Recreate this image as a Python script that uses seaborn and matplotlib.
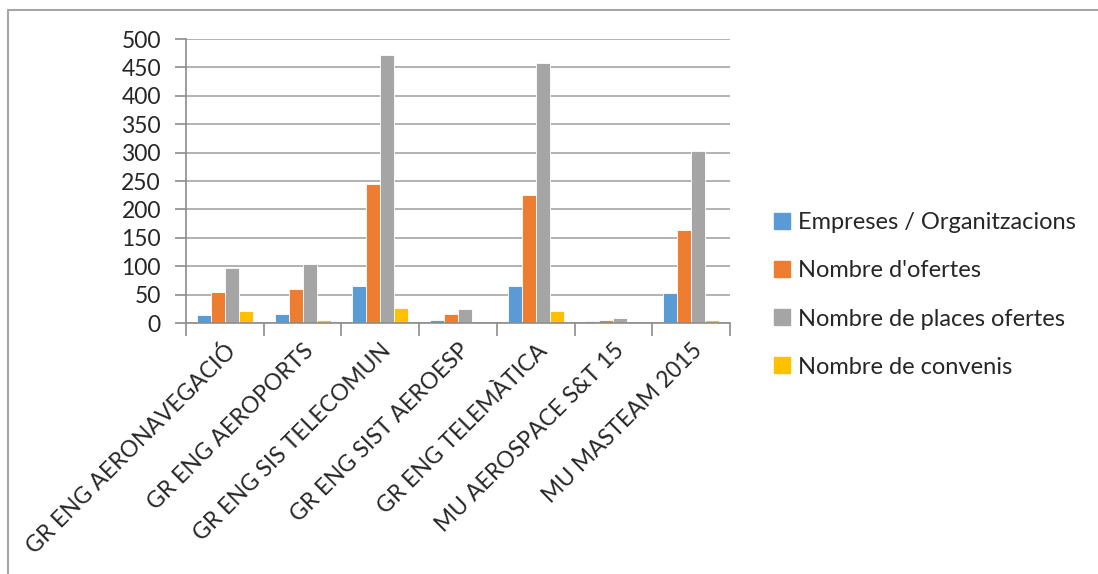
import pandas as pd
from matplotlib import pyplot as plt
import seaborn as sns
from matplotlib.lines import Line2D

programs = [
    "GR ENG AERONAVEGACIÓ",
    "GR ENG AEROPORTS",
    "GR ENG SIS TELECOMUN",
    "GR ENG SIST AEROESP",
    "GR ENG TELEMÀTICA",
    "MU AEROSPACE S&T 15",
    "MU MASTEAM 2015",
]
series_names = [
    "Empreses / Organitzacions",
    "Nombre d'ofertes",
    "Nombre de places ofertes",
    "Nombre de convenis",
]
empreses = [14, 16, 66, 6, 66, 4, 53]
ofertes = [55, 59, 245, 15, 225, 5, 163]
places = [97, 103, 472, 25, 457, 9, 302]
convenis = [22, 6, 26, 0, 21, 0, 6]

colors = ["#5B9BD5", "#ED7D31", "#A5A5A5", "#FFC000"]

sns.set_style("white")
plt.rcParams["font.family"] = ["Lato", "DejaVu Sans"]

rows = []
for name, values in zip(series_names, [empreses, ofertes, places, convenis]):
    for prog, v in zip(programs, values):
        rows.append({"program": prog, "series": name, "value": v})
df = pd.DataFrame(rows)

fig = plt.figure(figsize=(10.98, 5.74), dpi=100)
ax = fig.add_axes([186 / 1098, 1 - 323 / 574, 544 / 1098, (323 - 39) / 574])

sns.barplot(
    data=df,
    x="program",
    y="value",
    hue="series",
    hue_order=series_names,
    order=programs,
    palette=colors,
    width=0.72,
    saturation=1.0,
    edgecolor="white",
    linewidth=0.6,
    legend=False,
    ax=ax,
)

axis_grey = "#8C8C8C"
ax.set_ylim(0, 500)
ax.set_xlim(-0.5, len(programs) - 0.5)
ax.set_yticks(range(0, 501, 50))
ax.yaxis.grid(True, color="#A6A6A6", linewidth=1.2)
ax.set_axisbelow(True)
for side in ["top", "right"]:
    ax.spines[side].set_visible(False)
for side in ["left", "bottom"]:
    ax.spines[side].set_color(axis_grey)
    ax.spines[side].set_linewidth(1.2)
ax.set_xlabel("")
ax.set_ylabel("")

ax.tick_params(axis="y", direction="out", length=8, width=1.2, color=axis_grey,
               labelsize=16.5, pad=10, left=True)
ax.set_xticks([i - 0.5 for i in range(len(programs) + 1)], minor=True)
ax.tick_params(axis="x", which="minor", direction="out", length=9, width=1.2,
               color=axis_grey, bottom=True)
ax.tick_params(axis="x", which="major", length=0, labelsize=16.5, pad=12)
ax.set_xticklabels(programs, rotation=45, ha="right", rotation_mode="anchor")

handles = [Line2D([0], [0], color=c, marker="s", linestyle="", markersize=12)
           for c in colors]
fig.legend(handles, series_names, loc="center left",
           bbox_to_anchor=(752 / 1098, 1 - 295 / 574), frameon=False,
           fontsize=17, labelspacing=1.15, handlelength=0.7, handletextpad=0.35)

# chart area border (only top and left visible in the crop)
fig.add_artist(Line2D([8 / 1098, 1], [1 - 10 / 574] * 2, color="#A6A6A6",
                      linewidth=1.5, transform=fig.transFigure))
fig.add_artist(Line2D([8 / 1098] * 2, [0, 1 - 10 / 574], color="#A6A6A6",
                      linewidth=1.5, transform=fig.transFigure))

plt.savefig("out.png", dpi=100)
